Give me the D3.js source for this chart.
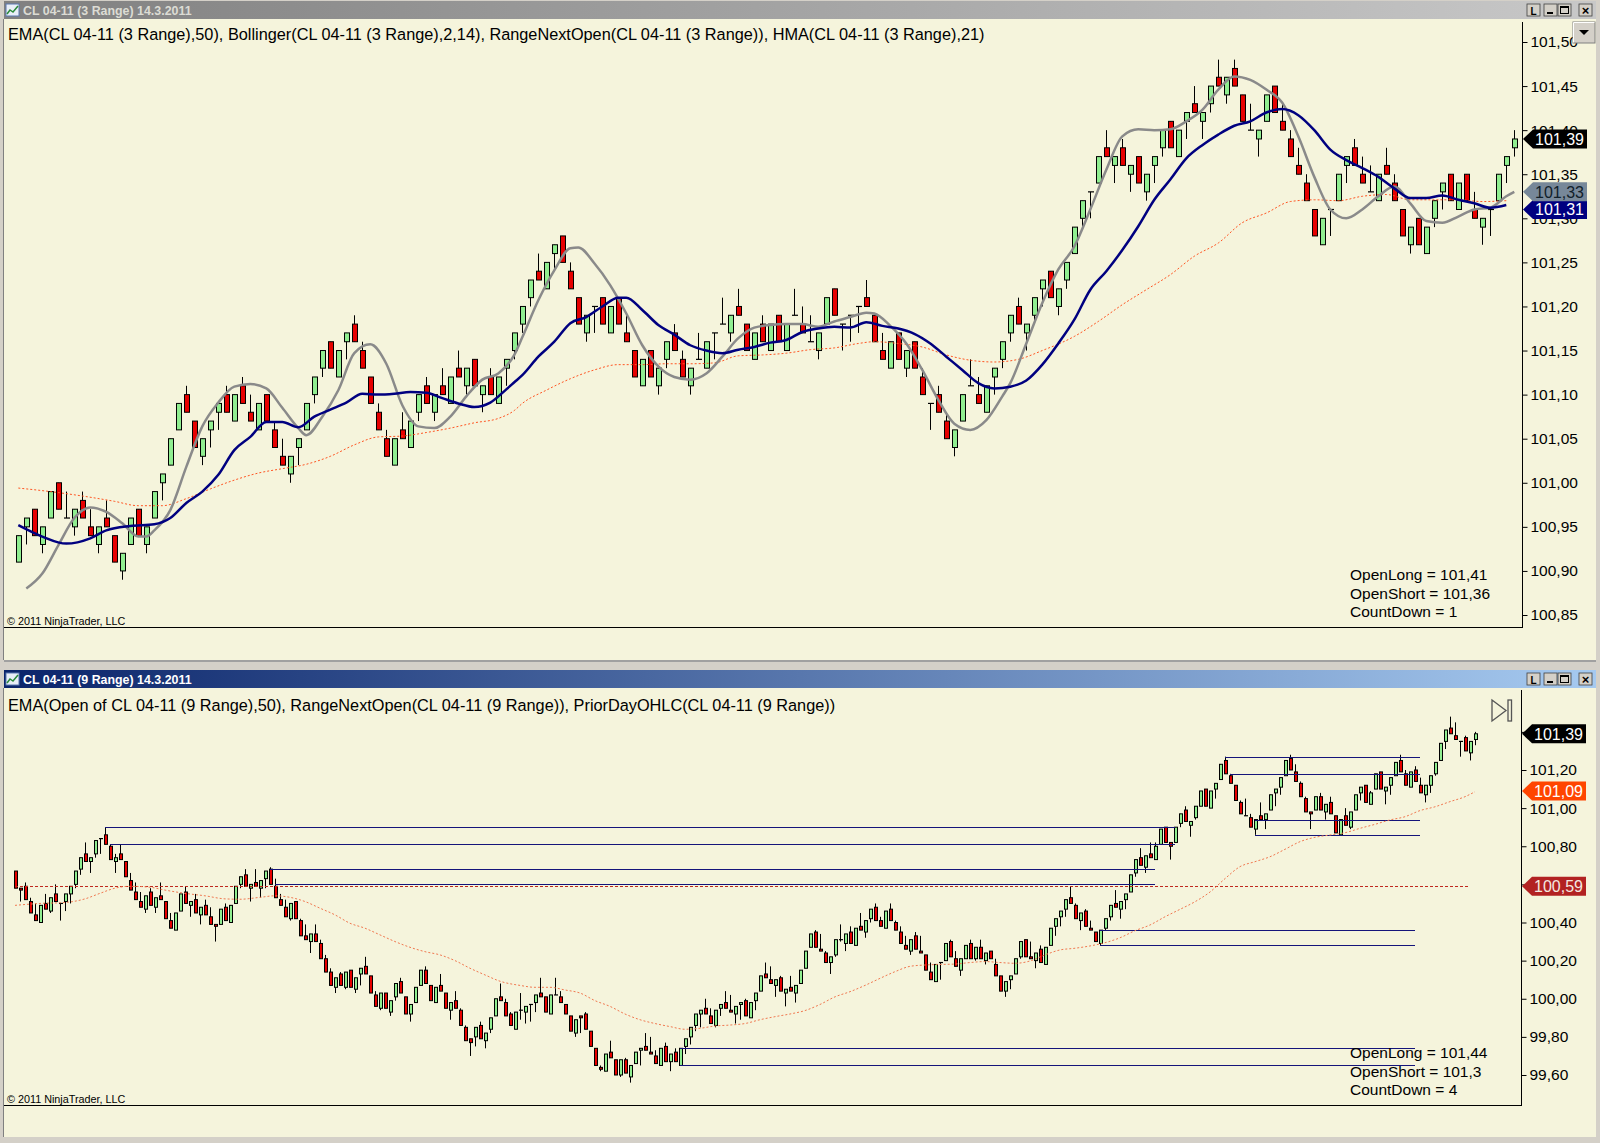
<!DOCTYPE html>
<html>
<head>
<meta charset="utf-8">
<script src="https://cdn.jsdelivr.net/npm/d3@7"></script>
<style>
  body { margin: 0; background: #d4d0c8; }
  svg { display: block; font-family: "Liberation Sans", Arial, sans-serif; }
</style>
</head>
<body>
<div id="chart"></div>
<script>
// ---------- top chart: CL 04-11 (3 Range) ----------
const topOpen = [
  100.91,100.95,100.97,100.93,100.96,101.00,100.96,100.95,100.98,100.95,
  100.93,100.96,100.94,100.90,100.93,100.97,100.93,100.96,101.00,101.02,
  101.06,101.10,101.07,101.03,101.06,101.08,101.10,101.07,101.11,101.08,
  101.06,101.10,101.06,101.03,101.01,101.04,101.06,101.10,101.13,101.16,
  101.12,101.16,101.18,101.15,101.12,101.08,101.05,101.02,101.06,101.04,
  101.08,101.11,101.08,101.11,101.09,101.13,101.11,101.14,101.10,101.12,
  101.09,101.13,101.15,101.18,101.21,101.24,101.22,101.26,101.28,101.24,
  101.21,101.17,101.20,101.21,101.17,101.21,101.17,101.15,101.11,101.15,
  101.11,101.14,101.17,101.14,101.11,101.14,101.13,101.17,101.18,101.17,
  101.20,101.18,101.14,101.18,101.15,101.19,101.15,101.19,101.18,101.16,
  101.15,101.18,101.22,101.18,101.19,101.20,101.21,101.19,101.15,101.13,
  101.17,101.13,101.16,101.12,101.09,101.10,101.07,101.04,101.07,101.11,
  101.10,101.08,101.12,101.14,101.17,101.20,101.17,101.19,101.22,101.24,
  101.20,101.23,101.26,101.30,101.33,101.34,101.38,101.36,101.38,101.35,
  101.37,101.33,101.36,101.38,101.41,101.37,101.41,101.43,101.41,101.43,
  101.46,101.44,101.47,101.44,101.40,101.39,101.41,101.45,101.41,101.39,
  101.36,101.34,101.31,101.27,101.31,101.32,101.36,101.38,101.35,101.33,
  101.32,101.36,101.34,101.31,101.27,101.30,101.26,101.30,101.33,101.35,
  101.31,101.35,101.31,101.29,101.31,101.32,101.36,101.38
];
const topHigh = [
  100.94,100.96,100.97,100.95,100.99,101.00,100.99,100.97,100.99,100.97,
  100.95,100.98,100.94,100.92,100.96,100.97,100.95,100.99,101.01,101.05,
  101.09,101.11,101.07,101.05,101.07,101.09,101.11,101.10,101.12,101.10,
  101.09,101.10,101.07,101.05,101.03,101.05,101.09,101.12,101.15,101.16,
  101.15,101.17,101.19,101.16,101.12,101.09,101.06,101.05,101.08,101.07,
  101.10,101.12,101.10,101.13,101.12,101.15,101.13,101.14,101.11,101.13,
  101.12,101.14,101.17,101.20,101.23,101.26,101.25,101.27,101.28,101.25,
  101.21,101.19,101.20,101.21,101.20,101.21,101.19,101.15,101.14,101.15,
  101.13,101.16,101.18,101.15,101.13,101.17,101.16,101.17,101.21,101.19,
  101.22,101.18,101.17,101.19,101.18,101.19,101.18,101.22,101.20,101.19,
  101.17,101.21,101.22,101.18,101.19,101.20,101.23,101.19,101.17,101.16,
  101.17,101.15,101.16,101.13,101.09,101.11,101.08,101.06,101.10,101.14,
  101.12,101.11,101.13,101.16,101.19,101.21,101.18,101.21,101.23,101.24,
  101.22,101.25,101.29,101.32,101.33,101.37,101.40,101.37,101.39,101.36,
  101.37,101.35,101.37,101.40,101.41,101.40,101.42,101.45,101.42,101.45,
  101.48,101.46,101.48,101.44,101.43,101.40,101.44,101.45,101.43,101.40,
  101.38,101.35,101.31,101.30,101.31,101.35,101.37,101.39,101.37,101.36,
  101.35,101.38,101.35,101.31,101.29,101.30,101.29,101.32,101.34,101.35,
  101.34,101.35,101.33,101.30,101.31,101.35,101.37,101.40
];
const topLow = [
  100.91,100.93,100.94,100.92,100.96,100.97,100.96,100.94,100.96,100.94,
  100.92,100.95,100.91,100.89,100.93,100.94,100.92,100.96,100.98,101.02,
  101.06,101.08,101.04,101.02,101.04,101.06,101.08,101.07,101.09,101.07,
  101.06,101.07,101.04,101.02,101.00,101.02,101.06,101.09,101.12,101.13,
  101.12,101.14,101.16,101.13,101.09,101.06,101.03,101.02,101.05,101.04,
  101.07,101.09,101.07,101.10,101.09,101.12,101.10,101.11,101.08,101.10,
  101.09,101.11,101.14,101.17,101.20,101.23,101.22,101.24,101.25,101.22,
  101.18,101.16,101.17,101.18,101.17,101.18,101.16,101.12,101.11,101.12,
  101.10,101.13,101.15,101.12,101.10,101.14,101.13,101.14,101.18,101.16,
  101.19,101.15,101.14,101.16,101.15,101.16,101.15,101.19,101.17,101.16,
  101.14,101.18,101.19,101.15,101.16,101.17,101.20,101.16,101.14,101.13,
  101.14,101.12,101.13,101.10,101.06,101.08,101.05,101.03,101.07,101.11,
  101.09,101.08,101.10,101.13,101.16,101.18,101.15,101.18,101.20,101.21,
  101.19,101.22,101.26,101.29,101.30,101.34,101.37,101.34,101.36,101.33,
  101.34,101.32,101.34,101.37,101.38,101.37,101.39,101.42,101.39,101.42,
  101.45,101.43,101.45,101.41,101.40,101.37,101.41,101.42,101.40,101.37,
  101.35,101.32,101.28,101.27,101.28,101.32,101.34,101.36,101.34,101.33,
  101.32,101.35,101.32,101.28,101.26,101.27,101.26,101.29,101.31,101.32,
  101.31,101.32,101.30,101.27,101.28,101.32,101.34,101.37
];
const topClose = [
  100.94,100.96,100.94,100.95,100.99,100.97,100.96,100.97,100.96,100.94,
  100.95,100.95,100.91,100.92,100.96,100.94,100.95,100.99,101.01,101.05,
  101.09,101.08,101.04,101.05,101.07,101.09,101.08,101.10,101.09,101.07,
  101.09,101.07,101.04,101.02,101.03,101.05,101.09,101.12,101.15,101.13,
  101.15,101.17,101.16,101.13,101.09,101.06,101.03,101.05,101.05,101.07,
  101.10,101.09,101.10,101.10,101.12,101.12,101.13,101.11,101.11,101.10,
  101.12,101.14,101.17,101.20,101.23,101.23,101.25,101.27,101.25,101.22,
  101.18,101.19,101.20,101.18,101.20,101.18,101.16,101.12,101.14,101.12,
  101.13,101.16,101.15,101.12,101.13,101.14,101.16,101.17,101.18,101.19,
  101.19,101.15,101.17,101.16,101.18,101.16,101.18,101.19,101.17,101.16,
  101.17,101.21,101.19,101.18,101.19,101.20,101.20,101.16,101.14,101.16,
  101.14,101.15,101.13,101.10,101.09,101.08,101.05,101.06,101.10,101.11,
  101.09,101.11,101.13,101.16,101.19,101.18,101.18,101.21,101.23,101.21,
  101.22,101.25,101.29,101.32,101.33,101.37,101.37,101.37,101.36,101.36,
  101.34,101.35,101.37,101.40,101.38,101.40,101.42,101.42,101.42,101.45,
  101.45,101.46,101.45,101.41,101.40,101.40,101.44,101.42,101.40,101.37,
  101.35,101.32,101.28,101.30,101.31,101.35,101.37,101.36,101.34,101.33,
  101.35,101.35,101.32,101.28,101.29,101.27,101.29,101.32,101.34,101.32,
  101.34,101.32,101.30,101.30,101.31,101.35,101.37,101.39
];
// indicator lines, read as [bar, value]
const topNavyLine = [
  [0,100.952],[3,100.939],[6,100.931],[9,100.937],[11,100.946],[14,100.951],[17,100.953],[19,100.960],
  [21,100.977],[23,100.990],[25,101.009],[27,101.037],[29,101.052],[31,101.069],[33,101.069],[35,101.063],
  [37,101.075],[39,101.083],[41,101.091],[43,101.101],[45,101.100],[47,101.101],[49,101.103],[51,101.102],
  [53,101.096],[55,101.090],[57,101.086],[59,101.091],[61,101.106],[62,101.114],[63,101.122],[65,101.143],
  [67,101.160],[69,101.181],[71,101.188],[73,101.200],[75,101.210],[76,101.210],[78,101.196],[80,101.179],
  [82,101.168],[84,101.156],[86,101.150],[88,101.147],[90,101.151],[92,101.154],[94,101.159],[96,101.162],
  [98,101.171],[100,101.175],[102,101.177],[104,101.176],[106,101.182],[108,101.178],[110,101.175],[112,101.169],
  [114,101.158],[116,101.143],[118,101.128],[120,101.113],[122,101.107],[124,101.109],[126,101.116],[128,101.134],
  [130,101.158],[132,101.185],[134,101.219],[136,101.240],[138,101.264],[140,101.291],[142,101.321],[144,101.344],
  [146,101.368],[148,101.383],[150,101.395],[152,101.405],[154,101.410],[156,101.420],[158,101.424],[160,101.417],
  [162,101.400],[164,101.378],[166,101.366],[168,101.357],[170,101.347],[172,101.334],[174,101.323],[176,101.323],
  [178,101.326],[180,101.321],[182,101.317],[184,101.312],[186,101.315]
];
const topGrayLine = [
  [1,100.880],[3,100.897],[5,100.929],[7,100.960],[9,100.972],[11,100.967],[13,100.954],[15,100.939],
  [16,100.939],[17,100.946],[19,100.969],[21,101.018],[23,101.064],[25,101.091],[27,101.109],[29,101.112],
  [31,101.107],[33,101.085],[35,101.062],[36,101.054],[38,101.075],[40,101.105],[42,101.147],[44,101.157],
  [46,101.135],[48,101.088],[50,101.064],[52,101.062],[54,101.075],[56,101.098],[58,101.117],[60,101.124],
  [62,101.145],[63,101.165],[65,101.207],[67,101.241],[69,101.266],[70,101.267],[72,101.249],[74,101.224],
  [76,101.192],[78,101.156],[80,101.132],[82,101.120],[84,101.117],[86,101.124],[88,101.143],[90,101.164],
  [92,101.176],[94,101.179],[96,101.180],[98,101.180],[100,101.177],[102,101.183],[104,101.188],[106,101.193],
  [107,101.192],[109,101.178],[111,101.158],[113,101.128],[115,101.094],[117,101.067],[119,101.060],[121,101.071],
  [123,101.098],[124,101.113],[126,101.158],[128,101.204],[130,101.242],[132,101.268],[134,101.310],[136,101.355],
  [138,101.393],[140,101.401],[142,101.400],[144,101.401],[146,101.410],[148,101.423],[150,101.446],[152,101.461],
  [154,101.457],[156,101.446],[158,101.431],[160,101.393],[162,101.347],[164,101.310],[166,101.300],[168,101.310],
  [170,101.325],[172,101.336],[174,101.317],[176,101.297],[178,101.295],[180,101.302],[182,101.310],[184,101.312],
  [186,101.325],[187,101.330]
];
const topEmaLine = [
  [0,100.994],[4,100.990],[8,100.985],[12,100.979],[15,100.974],[18,100.974],[21,100.982],[24,100.993],
  [27,101.003],[30,101.011],[33,101.016],[36,101.021],[39,101.030],[42,101.043],[45,101.052],[48,101.053],
  [51,101.057],[54,101.062],[57,101.068],[60,101.073],[62,101.082],[63,101.090],[66,101.105],[69,101.118],
  [72,101.128],[75,101.134],[78,101.134],[81,101.135],[84,101.135],[87,101.136],[90,101.144],[93,101.145],
  [96,101.147],[99,101.151],[102,101.153],[105,101.158],[107,101.160],[110,101.158],[113,101.154],[116,101.145],
  [119,101.139],[122,101.137],[125,101.140],[128,101.150],[132,101.166],[135,101.183],[138,101.202],[141,101.219],
  [144,101.236],[147,101.257],[150,101.272],[153,101.295],[156,101.306],[159,101.319],[162,101.321],[165,101.320],
  [168,101.325],[171,101.327],[174,101.321],[177,101.321],[180,101.321],[183,101.319],[186,101.320]
];
const topPriceTicks = [100.85,100.90,100.95,101.00,101.05,101.10,101.15,101.20,101.25,101.30,101.35,101.40,101.45,101.50];
const topTimeLabels = ["19:23","19:24","19:24","19:25","19:26","19:27","19:28","19:28","19:30","19:32","19:38",
  "19:42","19:50","20:04","20:15","20:17","20:21","20:25","20:30","20:37","20:44"];
const topFlagValues = [101.31, 101.33, 101.39];
const topInfo = ["OpenLong = 101,41", "OpenShort = 101,36", "CountDown = 1"];

// ---------- bottom chart: CL 04-11 (9 Range) ----------
const botOpen = [
  100.67,100.58,100.59,100.51,100.44,100.40,100.50,100.46,100.55,100.50,
  100.51,100.55,100.60,100.68,100.76,100.72,100.76,100.84,100.86,100.80,
  100.72,100.76,100.72,100.62,100.56,100.51,100.47,100.56,100.48,100.54,
  100.51,100.41,100.36,100.46,100.56,100.49,100.52,100.44,100.49,100.43,
  100.39,100.39,100.48,100.40,100.50,100.60,100.65,100.58,100.61,100.58,
  100.63,100.68,100.59,100.52,100.48,100.42,100.51,100.41,100.33,100.30,
  100.34,100.29,100.21,100.14,100.06,100.13,100.06,100.15,100.05,100.13,
  100.17,100.12,100.02,99.95,100.03,99.93,100.01,100.09,100.01,99.92,
  99.98,100.07,100.15,100.07,99.98,100.07,100.03,99.94,99.99,99.94,
  99.85,99.79,99.80,99.86,99.78,99.84,99.91,100.01,99.98,99.92,
  99.84,99.94,99.93,99.97,99.98,100.03,100.01,99.92,100.02,100.01,
  99.97,99.91,99.82,99.91,99.92,99.83,99.74,99.64,99.62,99.72,
  99.68,99.60,99.68,99.59,99.66,99.73,99.75,99.72,99.70,99.65,
  99.75,99.67,99.72,99.65,99.75,99.80,99.86,99.92,99.95,99.91,
  99.86,99.95,99.98,99.94,99.92,99.97,99.99,99.90,99.99,100.04,
  100.13,100.10,100.07,100.11,100.03,100.06,100.03,100.08,100.16,100.27,
  100.35,100.26,100.24,100.19,100.23,100.31,100.29,100.35,100.28,100.38,
  100.35,100.42,100.48,100.41,100.37,100.47,100.40,100.35,100.28,100.25,
  100.33,100.25,100.23,100.14,100.09,100.19,100.20,100.30,100.21,100.15,
  100.21,100.29,100.21,100.27,100.20,100.25,100.18,100.12,100.04,100.10,
  100.13,100.22,100.31,100.22,100.20,100.26,100.18,100.28,100.38,100.43,
  100.47,100.53,100.49,100.41,100.46,100.37,100.35,100.29,100.37,100.43,
  100.50,100.47,100.52,100.56,100.66,100.74,100.69,100.76,100.73,100.81,
  100.90,100.82,100.82,100.92,100.99,100.91,100.95,101.01,101.10,101.00,
  101.10,101.15,101.25,101.17,101.12,101.03,100.96,100.95,100.89,100.96,
  100.94,100.99,101.08,101.11,101.17,101.26,101.19,101.13,101.05,100.98,
  100.99,101.06,100.98,101.03,100.96,100.86,100.96,100.90,100.99,101.08,
  101.12,101.02,101.10,101.19,101.09,101.12,101.17,101.25,101.18,101.11,
  101.20,101.12,101.07,101.12,101.18,101.25,101.35,101.42,101.38,101.35,
  101.37,101.29,101.36
];
const botHigh = [
  100.67,100.58,100.61,100.53,100.50,100.49,100.55,100.53,100.60,100.50,
  100.55,100.59,100.67,100.74,100.82,100.74,100.83,100.84,100.90,100.81,
  100.76,100.81,100.72,100.66,100.61,100.56,100.54,100.58,100.53,100.61,
  100.51,100.45,100.45,100.55,100.59,100.51,100.55,100.48,100.52,100.48,
  100.39,100.47,100.50,100.49,100.59,100.64,100.68,100.60,100.68,100.62,
  100.67,100.69,100.63,100.55,100.52,100.50,100.51,100.42,100.39,100.34,
  100.39,100.31,100.23,100.16,100.11,100.14,100.14,100.15,100.11,100.16,
  100.22,100.12,100.04,100.03,100.03,99.99,100.08,100.11,100.01,99.97,
  100.06,100.15,100.17,100.07,100.06,100.13,100.03,99.98,100.04,99.95,
  99.86,99.79,99.85,99.88,99.82,99.90,100.00,100.08,100.00,99.93,
  99.93,100.03,99.96,99.97,100.02,100.11,100.01,100.02,100.11,100.04,
  99.97,99.91,99.89,99.91,99.93,99.83,99.74,99.65,99.71,99.78,
  99.68,99.68,99.69,99.65,99.72,99.74,99.82,99.80,99.73,99.74,
  99.77,99.71,99.74,99.74,99.79,99.85,99.92,99.94,100.00,99.95,
  99.94,99.97,100.04,100.02,99.96,99.98,100.00,99.98,100.03,100.12,
  100.19,100.17,100.10,100.12,100.05,100.12,100.07,100.15,100.25,100.34,
  100.36,100.34,100.25,100.22,100.31,100.39,100.34,100.38,100.37,100.45,
  100.41,100.47,100.50,100.43,100.46,100.50,100.41,100.38,100.33,100.31,
  100.35,100.33,100.23,100.19,100.18,100.19,100.29,100.31,100.25,100.21,
  100.28,100.31,100.27,100.31,100.24,100.25,100.21,100.12,100.09,100.12,
  100.21,100.30,100.31,100.30,100.24,100.28,100.27,100.37,100.42,100.46,
  100.52,100.59,100.50,100.45,100.47,100.41,100.35,100.36,100.42,100.49,
  100.57,100.51,100.55,100.65,100.73,100.79,100.75,100.82,100.82,100.89,
  100.90,100.82,100.90,100.97,101.01,100.93,101.01,101.09,101.10,101.09,
  101.13,101.23,101.27,101.18,101.12,101.04,101.05,100.97,100.94,101.03,
  100.97,101.07,101.10,101.16,101.25,101.28,101.23,101.14,101.06,100.98,
  101.06,101.08,101.02,101.06,100.96,100.94,101.00,100.98,101.07,101.11,
  101.12,101.09,101.18,101.19,101.11,101.16,101.24,101.28,101.20,101.19,
  101.22,101.16,101.12,101.17,101.24,101.34,101.41,101.48,101.45,101.35,
  101.38,101.35,101.40
];
const botLow = [
  100.58,100.51,100.52,100.45,100.41,100.40,100.47,100.45,100.51,100.41,
  100.46,100.50,100.58,100.65,100.72,100.66,100.74,100.76,100.81,100.73,
  100.66,100.73,100.64,100.57,100.52,100.48,100.45,100.49,100.45,100.52,
  100.42,100.37,100.36,100.46,100.50,100.43,100.45,100.39,100.44,100.39,
  100.30,100.39,100.41,100.40,100.50,100.58,100.59,100.51,100.59,100.53,
  100.58,100.60,100.53,100.49,100.43,100.41,100.42,100.33,100.31,100.24,
  100.30,100.21,100.14,100.07,100.03,100.07,100.05,100.06,100.03,100.07,
  100.13,100.03,99.96,99.94,99.95,99.91,99.99,100.03,99.92,99.88,
  99.98,100.07,100.08,99.99,99.98,100.04,99.95,99.89,99.95,99.86,
  99.78,99.70,99.75,99.79,99.74,99.82,99.91,99.99,99.91,99.86,
  99.84,99.89,99.87,99.88,99.93,100.01,99.93,99.92,100.02,99.98,
  99.92,99.83,99.80,99.82,99.84,99.75,99.65,99.62,99.62,99.69,
  99.60,99.59,99.61,99.56,99.66,99.65,99.73,99.71,99.66,99.65,
  99.67,99.62,99.67,99.65,99.71,99.76,99.83,99.85,99.92,99.87,
  99.85,99.91,99.95,99.93,99.87,99.89,99.91,99.90,99.94,100.04,
  100.11,100.08,100.01,100.04,99.96,100.04,99.98,100.08,100.16,100.27,
  100.27,100.25,100.19,100.13,100.22,100.30,100.25,100.29,100.28,100.36,
  100.32,100.40,100.41,100.38,100.37,100.41,100.36,100.29,100.26,100.23,
  100.26,100.24,100.15,100.10,100.09,100.10,100.20,100.22,100.17,100.12,
  100.21,100.21,100.20,100.21,100.18,100.21,100.12,100.04,100.01,100.05,
  100.13,100.21,100.22,100.21,100.16,100.19,100.18,100.28,100.33,100.38,
  100.43,100.50,100.42,100.36,100.38,100.36,100.30,100.28,100.36,100.41,
  100.48,100.42,100.47,100.56,100.64,100.70,100.66,100.74,100.73,100.81,
  100.82,100.73,100.82,100.90,100.93,100.85,100.94,101.01,101.01,101.00,
  101.05,101.15,101.18,101.13,101.04,100.97,100.96,100.90,100.86,100.94,
  100.89,100.99,101.01,101.07,101.17,101.20,101.14,101.06,100.98,100.89,
  100.99,100.99,100.94,100.97,100.87,100.86,100.91,100.89,100.99,101.04,
  101.03,101.02,101.10,101.10,101.02,101.07,101.17,101.19,101.12,101.11,
  101.14,101.08,101.03,101.08,101.17,101.25,101.31,101.39,101.36,101.27,
  101.30,101.25,101.33
];
const botClose = [
  100.58,100.57,100.52,100.45,100.41,100.49,100.47,100.53,100.51,100.50,
  100.55,100.59,100.67,100.74,100.72,100.74,100.83,100.84,100.81,100.73,
  100.74,100.73,100.64,100.57,100.52,100.48,100.54,100.49,100.53,100.52,
  100.42,100.37,100.45,100.55,100.50,100.51,100.45,100.48,100.44,100.39,
  100.38,100.47,100.41,100.49,100.59,100.64,100.59,100.60,100.59,100.62,
  100.67,100.60,100.53,100.49,100.43,100.50,100.42,100.33,100.31,100.34,
  100.30,100.21,100.14,100.07,100.11,100.07,100.14,100.06,100.11,100.16,
  100.13,100.03,99.96,100.03,99.95,99.99,100.08,100.03,99.92,99.97,
  100.06,100.15,100.08,99.99,100.06,100.04,99.95,99.98,99.95,99.86,
  99.78,99.77,99.85,99.79,99.82,99.90,100.00,99.99,99.91,99.86,
  99.93,99.94,99.96,99.97,100.02,100.01,99.93,100.02,100.02,99.98,
  99.92,99.83,99.89,99.90,99.84,99.75,99.65,99.63,99.71,99.69,
  99.60,99.68,99.61,99.65,99.72,99.74,99.73,99.71,99.66,99.74,
  99.67,99.71,99.67,99.74,99.79,99.85,99.92,99.94,99.92,99.87,
  99.94,99.97,99.95,99.93,99.96,99.98,99.91,99.98,100.03,100.12,
  100.11,100.08,100.10,100.04,100.05,100.04,100.07,100.15,100.25,100.34,
  100.27,100.25,100.19,100.22,100.31,100.31,100.34,100.29,100.37,100.36,
  100.41,100.47,100.41,100.38,100.46,100.41,100.36,100.29,100.26,100.31,
  100.26,100.24,100.15,100.10,100.18,100.19,100.29,100.22,100.17,100.21,
  100.28,100.21,100.27,100.21,100.24,100.21,100.12,100.04,100.09,100.12,
  100.21,100.30,100.22,100.21,100.24,100.19,100.27,100.37,100.42,100.46,
  100.52,100.50,100.42,100.45,100.38,100.36,100.30,100.36,100.42,100.49,
  100.48,100.51,100.55,100.65,100.73,100.70,100.75,100.74,100.80,100.89,
  100.82,100.80,100.90,100.97,100.93,100.93,101.01,101.09,101.01,101.09,
  101.13,101.23,101.18,101.13,101.04,100.97,100.96,100.90,100.94,100.94,
  100.97,101.07,101.10,101.16,101.25,101.20,101.14,101.06,100.98,100.97,
  101.06,100.99,101.02,100.97,100.87,100.94,100.91,100.98,101.07,101.11,
  101.03,101.08,101.18,101.10,101.11,101.16,101.24,101.19,101.12,101.19,
  101.14,101.08,101.12,101.17,101.24,101.34,101.41,101.39,101.36,101.35,
  101.30,101.35,101.39
];
const botEmaLine = [
  [0,100.49],[5,100.50],[10,100.505],[14,100.524],[17,100.553],[20,100.58],[23,100.59],[27,100.585],
  [30,100.57],[34,100.553],[38,100.54],[42,100.524],[45,100.522],[49,100.532],[52,100.54],[55,100.532],
  [58,100.51],[61,100.475],[64,100.44],[67,100.396],[70,100.37],[73,100.335],[76,100.30],[79,100.27],
  [82,100.247],[85,100.23],[88,100.20],[91,100.16],[94,100.125],[97,100.092],[101,100.07],[104,100.06],
  [107,100.06],[110,100.046],[113,100.03],[116,99.99],[119,99.96],[122,99.92],[125,99.89],[128,99.87],
  [131,99.854],[134,99.84],[137,99.845],[140,99.857],[143,99.862],[146,99.87],[149,99.89],[152,99.906],
  [155,99.92],[158,99.938],[161,99.97],[164,100.01],[167,100.037],[170,100.07],[173,100.107],[176,100.142],
  [179,100.17],[182,100.177],[185,100.18],[188,100.182],[191,100.19],[194,100.195],[197,100.19],[200,100.186],
  [203,100.198],[206,100.23],[209,100.256],[212,100.265],[215,100.277],[218,100.294],[221,100.32],[224,100.357],
  [227,100.387],[230,100.43],[233,100.469],[236,100.509],[239,100.56],[242,100.63],[245,100.693],[248,100.719],
  [251,100.745],[254,100.784],[257,100.824],[260,100.847],[263,100.859],[266,100.871],[269,100.894],[272,100.915],
  [275,100.938],[278,100.955],[281,100.987],[284,101.007],[287,101.034],[290,101.06],[292,101.086]
];
// swing levels: [first bar, last bar, price]
const botLevels = [
  [18,232,100.90],[19,232,100.81],[51,228,100.68],[52,228,100.60],[133,280,99.74],[133,280,99.65],
  [217,280,100.36],[217,280,100.28],[242,281,101.27],[243,281,101.18],[248,281,100.94],[248,281,100.86]
];
const botPriorClose = [0, 291, 100.59];
const botPriceTicks = [99.60,99.80,100.00,100.20,100.40,100.60,100.80,101.00,101.20,101.40];
const botTimeLabels = ["14:54:38","15:04:33","15:12:26","15:19:41","15:31:39","15:39:10","15:46:27","15:59:30",
  "16:15:17","16:24:41","16:38:19","16:49:39","17:02:24","17:24:24","17:54:46","18:18:45","18:50:26","19:08:27",
  "19:19:07","19:24:18","19:50:04","21:02:42"];
const botFlagValues = [100.59, 101.09, 101.39];
const botInfo = ["OpenLong = 101,44", "OpenShort = 101,3", "CountDown = 4"];

// ---------- drawing ----------
const W = 1600, H = 1143;
const cream = "#f5f4dc";
const fmtPrice = v => v.toFixed(2).replace(".", ",");

const svg = d3.select("#chart").append("svg").attr("width", W).attr("height", H);
const defs = svg.append("defs");

function gradient(id, from, to) {
  const g = defs.append("linearGradient").attr("id", id).attr("x1", "0%").attr("x2", "100%");
  g.append("stop").attr("offset", "0%").attr("stop-color", from);
  g.append("stop").attr("offset", "100%").attr("stop-color", to);
}
gradient("gradInactive", "#808080", "#c8c8c8");
gradient("gradActive", "#0a246a", "#a6caf0");

function clip(id, x, y, w, h) {
  defs.append("clipPath").attr("id", id).append("rect").attr("x", x).attr("y", y).attr("width", w).attr("height", h);
}

svg.append("rect").attr("width", W).attr("height", H).attr("fill", "#d4d0c8");

function windowFrame(top, bottom, titleFill, titleText, textColor) {
  svg.append("rect").attr("x", 3).attr("y", top + 1).attr("width", 1594).attr("height", 18).attr("fill", `url(#${titleFill})`);
  svg.append("rect").attr("x", 4).attr("y", top + 19).attr("width", 1592).attr("height", bottom - top - 19).attr("fill", cream);
  // little chart icon
  const ic = svg.append("g").attr("transform", `translate(6,${top + 4})`);
  ic.append("rect").attr("width", 13).attr("height", 12).attr("fill", "#e8eef8").attr("stroke", "#5a78b0");
  ic.append("polyline").attr("points", "1,10 4,6 7,8 12,2").attr("fill", "none").attr("stroke", "#2a8a3a").attr("stroke-width", 1.5);
  svg.append("text").attr("x", 23).attr("y", top + 15).attr("fill", textColor)
    .attr("font-size", "12.4px").attr("font-weight", "bold").text(titleText);
  // title buttons
  const btns = [[1527, "L"], [1544, "_"], [1558, "□"], [1579, "×"]];
  btns.forEach(([bx, glyph]) => {
    const b = svg.append("g").attr("transform", `translate(${bx},${top + 4})`);
    b.append("rect").attr("width", 13).attr("height", 12).attr("fill", "#d4d0c8").attr("stroke", "#404040").attr("stroke-width", 0.8);
    if (glyph === "_") b.append("rect").attr("x", 3).attr("y", 8).attr("width", 6).attr("height", 2).attr("fill", "#000");
    else if (glyph === "□") {
      b.append("rect").attr("x", 2.5).attr("y", 2.5).attr("width", 8).attr("height", 7).attr("fill", "none").attr("stroke", "#000");
      b.append("rect").attr("x", 2.5).attr("y", 2.5).attr("width", 8).attr("height", 1.5).attr("fill", "#000");
    } else b.append("text").attr("x", 6.5).attr("y", 10.5).attr("text-anchor", "middle")
      .attr("font-size", glyph === "×" ? "13px" : "10px").attr("font-weight", "bold").text(glyph);
  });
}

windowFrame(0, 660, "gradInactive", "CL 04-11 (3 Range)  14.3.2011", "#dcdcd4");
svg.append("rect").attr("x", 0).attr("y", 660).attr("width", W).attr("height", 2).attr("fill", "#a0a0a0");
windowFrame(669, 1137, "gradActive", "CL 04-11 (9 Range)  14.3.2011", "#ffffff");

function drawCandles(g, O, Hi, Lo, C, x, y, bodyW) {
  const idx = d3.range(O.length);
  g.append("g").selectAll("line").data(idx).join("line")
    .attr("x1", i => Math.round(x(i)) + 0.5).attr("x2", i => Math.round(x(i)) + 0.5)
    .attr("y1", i => y(Hi[i])).attr("y2", i => y(Lo[i]))
    .attr("stroke", "#000").attr("stroke-width", 1);
  const bodies = idx.filter(i => Math.abs(O[i] - C[i]) >= 0.005);
  const dojis = idx.filter(i => Math.abs(O[i] - C[i]) < 0.005);
  g.append("g").selectAll("rect").data(bodies).join("rect")
    .attr("x", i => Math.round(x(i)) - Math.floor(bodyW / 2) + 0.5)
    .attr("y", i => y(Math.max(O[i], C[i])))
    .attr("width", bodyW)
    .attr("height", i => Math.max(1, y(Math.min(O[i], C[i])) - y(Math.max(O[i], C[i]))))
    .attr("fill", i => C[i] > O[i] ? "#90ee90" : "#e60000")
    .attr("stroke", "#000").attr("stroke-width", 1);
  g.append("g").selectAll("line").data(dojis).join("line")
    .attr("x1", i => Math.round(x(i)) - Math.floor(bodyW / 2))
    .attr("x2", i => Math.round(x(i)) - Math.floor(bodyW / 2) + bodyW + 1)
    .attr("y1", i => y(O[i])).attr("y2", i => y(O[i]))
    .attr("stroke", "#000").attr("stroke-width", 1.2);
}

function drawLine(g, pts, x, y, color, width, dash) {
  g.append("path").datum(pts)
    .attr("d", d3.line().x(d => x(d[0])).y(d => y(d[1])).curve(d3.curveMonotoneX))
    .attr("fill", "none").attr("stroke", color).attr("stroke-width", width)
    .attr("stroke-linejoin", "round").attr("stroke-dasharray", dash || null);
}

function priceAxis(axisX, top, bottom, y, ticks) {
  svg.append("line").attr("x1", axisX + 0.5).attr("x2", axisX + 0.5).attr("y1", top).attr("y2", bottom)
    .attr("stroke", "#000");
  const ax = svg.append("g").attr("transform", `translate(${axisX + 0.5},0)`)
    .call(d3.axisRight(y).tickValues(ticks).tickFormat(fmtPrice).tickSize(5).tickPadding(3));
  ax.select(".domain").remove();
  ax.selectAll("text").attr("font-size", "15.5px").attr("font-family", "Liberation Sans, Arial, sans-serif").attr("fill", "#000");
  ax.selectAll("line").attr("stroke", "#000");
}

function timeAxis(axisX, axisY, x, tickBars, labels, clipId) {
  svg.append("line").attr("x1", 4).attr("x2", axisX + 1).attr("y1", axisY + 0.5).attr("y2", axisY + 0.5).attr("stroke", "#000");
  const ax = svg.append("g").attr("transform", `translate(0,${axisY + 0.5})`).attr("clip-path", `url(#${clipId})`)
    .call(d3.axisBottom(x).tickValues(tickBars).tickFormat((d, i) => labels[i]).tickSize(5).tickPadding(3));
  ax.select(".domain").remove();
  ax.selectAll("text").attr("font-size", "15.5px").attr("font-family", "Liberation Sans, Arial, sans-serif").attr("fill", "#000");
  ax.selectAll("line").attr("stroke", "#000");
}

function flag(axisX, yPos, label, fill, textFill) {
  const x0 = axisX + 1;
  const g = svg.append("g");
  g.append("polygon")
    .attr("points", `${x0},${yPos} ${x0 + 10},${yPos - 9.5} ${x0 + 64},${yPos - 9.5} ${x0 + 64},${yPos + 9.5} ${x0 + 10},${yPos + 9.5}`)
    .attr("fill", fill);
  g.append("text").attr("x", x0 + 61).attr("y", yPos).attr("dy", "0.36em").attr("text-anchor", "end")
    .attr("font-size", "16px").attr("fill", textFill).text(label);
}

function infoBlock(x0, baselines, lines) {
  svg.append("g").selectAll("text").data(lines).join("text")
    .attr("x", x0).attr("y", (d, i) => baselines[i]).attr("font-size", "15.5px").attr("fill", "#000").text(d => d);
}

// ----- top panel -----
const tp = { left: 4, top: 19, axisX: 1522, bottom: 627 };
const xTop = d3.scaleLinear().domain([0, topOpen.length - 1]).range([18.3, 1514.3]);
const yTop = d3.scaleLinear().domain([100.85, 101.50]).range([615, 42]);
clip("clipTop", tp.left, tp.top, tp.axisX - tp.left, tp.bottom - tp.top);
clip("clipTopAxis", 6, tp.bottom, tp.axisX - 6, 30);

const gTop = svg.append("g").attr("clip-path", "url(#clipTop)");
drawCandles(gTop, topOpen, topHigh, topLow, topClose, xTop, yTop, 5);
drawLine(gTop, topEmaLine, xTop, yTop, "#ff5522", 1, "2,2");
drawLine(gTop, topGrayLine, xTop, yTop, "#8a8a8a", 2.5);
drawLine(gTop, topNavyLine, xTop, yTop, "#000080", 2.5);

svg.append("text").attr("x", 8).attr("y", 40).attr("font-size", "16.3px").attr("fill", "#000")
  .text("EMA(CL 04-11 (3 Range),50), Bollinger(CL 04-11 (3 Range),2,14), RangeNextOpen(CL 04-11 (3 Range)), HMA(CL 04-11 (3 Range),21)");
svg.append("text").attr("x", 7).attr("y", 625).attr("font-size", "10.8px").attr("fill", "#000").text("© 2011 NinjaTrader, LLC");

priceAxis(tp.axisX, 22, tp.bottom + 1, yTop, topPriceTicks);
timeAxis(tp.axisX, tp.bottom, xTop, topTimeLabels.map((d, i) => i * 9), topTimeLabels, "clipTopAxis");
infoBlock(1350, [580, 599, 617], topInfo);

const topFlagStyle = [["#000080", "#ffffff"], ["#778899", "#10202a"], ["#000000", "#ffffff"]];
topFlagValues.forEach((v, i) => flag(tp.axisX, yTop(v), fmtPrice(v), topFlagStyle[i][0], topFlagStyle[i][1]));

// dropdown button in the corner
const dd = svg.append("g").attr("transform", "translate(1573,22)");
dd.append("rect").attr("width", 22).attr("height", 21).attr("fill", "#d4d0c8").attr("stroke", "#808080");
dd.append("line").attr("x1", 0.5).attr("y1", 0.5).attr("x2", 21.5).attr("y2", 0.5).attr("stroke", "#fff");
dd.append("line").attr("x1", 0.5).attr("y1", 0.5).attr("x2", 0.5).attr("y2", 20.5).attr("stroke", "#fff");
dd.append("polygon").attr("points", "6,8 16,8 11,13").attr("fill", "#000");

// ----- bottom panel -----
const bp = { left: 4, top: 688, axisX: 1521, bottom: 1105 };
const xBot = d3.scaleLinear().domain([0, botOpen.length - 1]).range([15, 1475]);
const yBot = d3.scaleLinear().domain([99.60, 101.20]).range([1075, 770]);
clip("clipBot", bp.left, bp.top, bp.axisX - bp.left, bp.bottom - bp.top);
clip("clipBotAxis", 6, bp.bottom, bp.axisX + 20 - 6, 30);

const gBot = svg.append("g").attr("clip-path", "url(#clipBot)");
drawCandles(gBot, botOpen, botHigh, botLow, botClose, xBot, yBot, 3);
gBot.append("line")
  .attr("x1", xBot(botPriorClose[0])).attr("x2", xBot(botPriorClose[1]))
  .attr("y1", Math.round(yBot(botPriorClose[2])) + 0.5).attr("y2", Math.round(yBot(botPriorClose[2])) + 0.5)
  .attr("stroke", "#c0281e").attr("stroke-width", 1).attr("stroke-dasharray", "3,2");
gBot.append("g").selectAll("line").data(botLevels).join("line")
  .attr("x1", d => xBot(d[0])).attr("x2", d => xBot(d[1]))
  .attr("y1", d => Math.round(yBot(d[2])) + 0.5).attr("y2", d => Math.round(yBot(d[2])) + 0.5)
  .attr("stroke", "#14147a").attr("stroke-width", 1.2);
drawLine(gBot, botEmaLine, xBot, yBot, "#f07850", 1, "2,2");

svg.append("text").attr("x", 8).attr("y", 711).attr("font-size", "16.3px").attr("fill", "#000")
  .text("EMA(Open of CL 04-11 (9 Range),50), RangeNextOpen(CL 04-11 (9 Range)), PriorDayOHLC(CL 04-11 (9 Range))");
svg.append("text").attr("x", 7).attr("y", 1103).attr("font-size", "10.8px").attr("fill", "#000").text("© 2011 NinjaTrader, LLC");

priceAxis(bp.axisX, 690, bp.bottom + 1, yBot, botPriceTicks);
timeAxis(bp.axisX, bp.bottom, xBot, botTimeLabels.map((d, i) => i * 14), botTimeLabels, "clipBotAxis");
infoBlock(1350, [1058, 1077, 1095], botInfo);

const botFlagStyle = [["#b22222", "#f4e8e0"], ["#ff4500", "#ffffff"], ["#000000", "#ffffff"]];
botFlagValues.forEach((v, i) => flag(bp.axisX, yBot(v), fmtPrice(v), botFlagStyle[i][0], botFlagStyle[i][1]));

// "scroll to end" marker
const se = svg.append("g").attr("fill", "none").attr("stroke", "#555").attr("stroke-width", 1.3);
se.append("polygon").attr("points", "1492,700 1506,710.5 1492,721");
se.append("rect").attr("x", 1508).attr("y", 700).attr("width", 3.5).attr("height", 21);

// window borders on top of everything
svg.append("rect").attr("x", 0).attr("y", 0).attr("width", 4).attr("height", H).attr("fill", "#d4d0c8");
svg.append("rect").attr("x", 1596).attr("y", 0).attr("width", 4).attr("height", H).attr("fill", "#d4d0c8");
svg.append("line").attr("x1", 3.5).attr("x2", 3.5).attr("y1", 19).attr("y2", 660).attr("stroke", "#808080");
svg.append("line").attr("x1", 3.5).attr("x2", 3.5).attr("y1", 688).attr("y2", 1137).attr("stroke", "#808080");
</script>
</body>
</html>
